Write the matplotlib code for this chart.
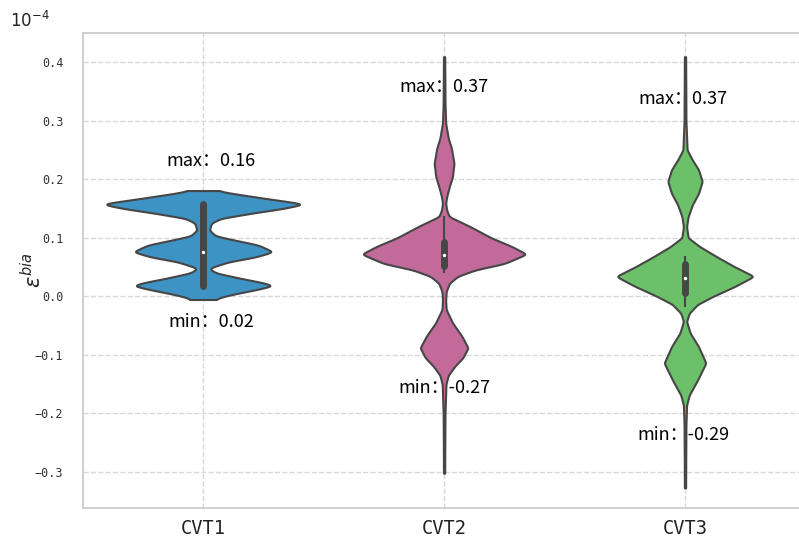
import numpy as np
import matplotlib
matplotlib.use("Agg")
import matplotlib.pyplot as plt
import seaborn as sns

sns.set_theme(style="whitegrid")
plt.rcParams['font.family'] = ['Noto Sans CJK SC', 'DejaVu Sans']
plt.rcParams['axes.unicode_minus'] = True

# values in units of 1e-4
categories = ["CVT1", "CVT2", "CVT3"]
colors = ["#3E93C5", "#C26B9A", "#6CC06A"]

# density profiles: (level, relative density)
cvt1_levels = [-0.0055, -0.002, 0.004, 0.011, 0.018, 0.023, 0.031, 0.040, 0.047,
               0.050, 0.059, 0.067, 0.076, 0.0875, 0.096, 0.103, 0.113, 0.125,
               0.133, 0.142, 0.150, 0.1575, 0.162, 0.167, 0.177, 0.1805]
cvt1_density = [12, 16, 30, 50, 67, 58, 35, 12, 6,
                9, 25, 50, 67, 53, 30, 12, 6, 8,
                17, 47, 77, 97, 80, 60, 23, 14]

cvt2_levels = [-0.302, -0.25, -0.20, -0.15, -0.135, -0.12, -0.105, -0.088, -0.068,
               -0.045, -0.0225, -0.006, 0.008, 0.022, 0.034, 0.045, 0.056, 0.072,
               0.085, 0.100, 0.119, 0.136, 0.147, 0.159, 0.170, 0.187, 0.204,
               0.227, 0.253, 0.270, 0.296, 0.33, 0.409]
cvt2_density = [0.6, 0.7, 0.9, 1.8, 4, 10, 18, 23, 17,
                8, 2, 1.5, 2, 5, 13, 30, 58, 79,
                65, 45, 25, 5, 2.5, 1.5, 2.5, 5, 8,
                9.5, 7, 4, 1.5, 0.9, 0.6]

cvt3_levels = [-0.327, -0.28, -0.22, -0.186, -0.169, -0.143, -0.114, -0.086, -0.063,
               -0.043, -0.029, -0.014, 0.0, 0.017, 0.034, 0.051, 0.068, 0.085,
               0.100, 0.119, 0.136, 0.156, 0.176, 0.196, 0.216, 0.233, 0.25,
               0.30, 0.409]
cvt3_density = [0.6, 0.7, 0.9, 1.5, 4, 12, 20, 13, 5,
                1.5, 4, 12, 27, 48, 66, 47, 30, 14,
                3, 1.5, 3, 7, 13, 16.5, 13, 7, 2,
                0.9, 0.6]

# box statistics: whisker low, q1, median, q3, whisker high
cvt1_box = [0.015, 0.018, 0.076, 0.157, 0.159]
cvt2_box = [0.040, 0.051, 0.0705, 0.092, 0.137]
cvt3_box = [-0.018, 0.006, 0.031, 0.055, 0.068]

max_values = [0.16, 0.37, 0.37]
min_values = [0.02, -0.27, -0.29]
max_label_y = [0.231, 0.357, 0.337]
min_label_y = [-0.044, -0.157, -0.237]
label_x_shift = [0.034, 0.0, -0.007]

levels = [cvt1_levels, cvt2_levels, cvt3_levels]
densities = [cvt1_density, cvt2_density, cvt3_density]
boxes = [cvt1_box, cvt2_box, cvt3_box]


def smooth_profile(lv, dens, sigma=0.0018, n=1400):
    y = np.linspace(lv[0], lv[-1], n)
    d = np.interp(y, lv, dens)
    step = y[1] - y[0]
    k = int(4 * sigma / step) + 1
    kern = np.exp(-0.5 * (np.arange(-k, k + 1) * step / sigma) ** 2)
    kern /= kern.sum()
    padded = np.pad(d, k, mode="edge")
    return y, np.convolve(padded, kern, mode="valid")


fig = plt.figure(figsize=(7.99, 5.38), dpi=100)
ax = fig.add_axes([0.1035, 0.0563, 0.9046, 0.8818])

profiles = [smooth_profile(lv, dens) for lv, dens in zip(levels, densities)]
global_max = max(d.max() for _, d in profiles)
half_width = 0.4
line_col = "#464646"

for i, ((y, d), box, col) in enumerate(zip(profiles, boxes, colors)):
    w = d / global_max * half_width
    ax.fill_betweenx(y, i - w, i + w, facecolor=col, edgecolor=line_col,
                     linewidth=1.5, zorder=2)
    wl, q1, med, q3, wh = box
    ax.vlines(i, wl, wh, color=line_col, linewidth=1.5, zorder=3)
    ax.vlines(i, q1, q3, color=line_col, linewidth=5, zorder=3,
              capstyle="round")
    ax.scatter([i], [med], s=6, color="white", zorder=4, linewidths=0)

for i in range(len(categories)):
    xs = i + label_x_shift[i]
    ax.text(xs, max_label_y[i], f"max：{max_values[i]:.2f}", ha="center",
            va="center", fontsize=13, color="black", zorder=5)
    ax.text(xs, min_label_y[i], f"min：{min_values[i]:.2f}", ha="center",
            va="center", fontsize=13, color="black", zorder=5)

ax.set_xlim(-0.5, 2.5)
ax.set_ylim(-0.361, 0.449)
ax.set_xticks(range(len(categories)))
ax.set_xticklabels(categories, fontsize=13.5, family="DejaVu Sans Mono")
yt = [-0.3, -0.2, -0.1, 0.0, 0.1, 0.2, 0.3, 0.4]
ax.set_yticks(yt)
ax.set_yticklabels([f"{v:.1f}".replace("-", "−") for v in yt], fontsize=8.5,
                   family="DejaVu Sans Mono")
ax.tick_params(axis="y", pad=8, colors="#333333")
ax.tick_params(axis="x", pad=2, colors="#222222")
ax.set_ylabel(r"$\varepsilon^{bia}$", fontsize=15)
ax.yaxis.set_label_coords(-0.05, 0.5)

ax.grid(True, linestyle="--", color="#d8d8d8", linewidth=1.0)
ax.set_axisbelow(True)
for s in ax.spines.values():
    s.set_color("#cccccc")
    s.set_linewidth(1.3)

ax.text(-0.1006, 1.004, r"$10^{-4}$", transform=ax.transAxes, fontsize=12,
        ha="left", va="bottom", color="#222222")

fig.savefig("out.png", dpi=100)
